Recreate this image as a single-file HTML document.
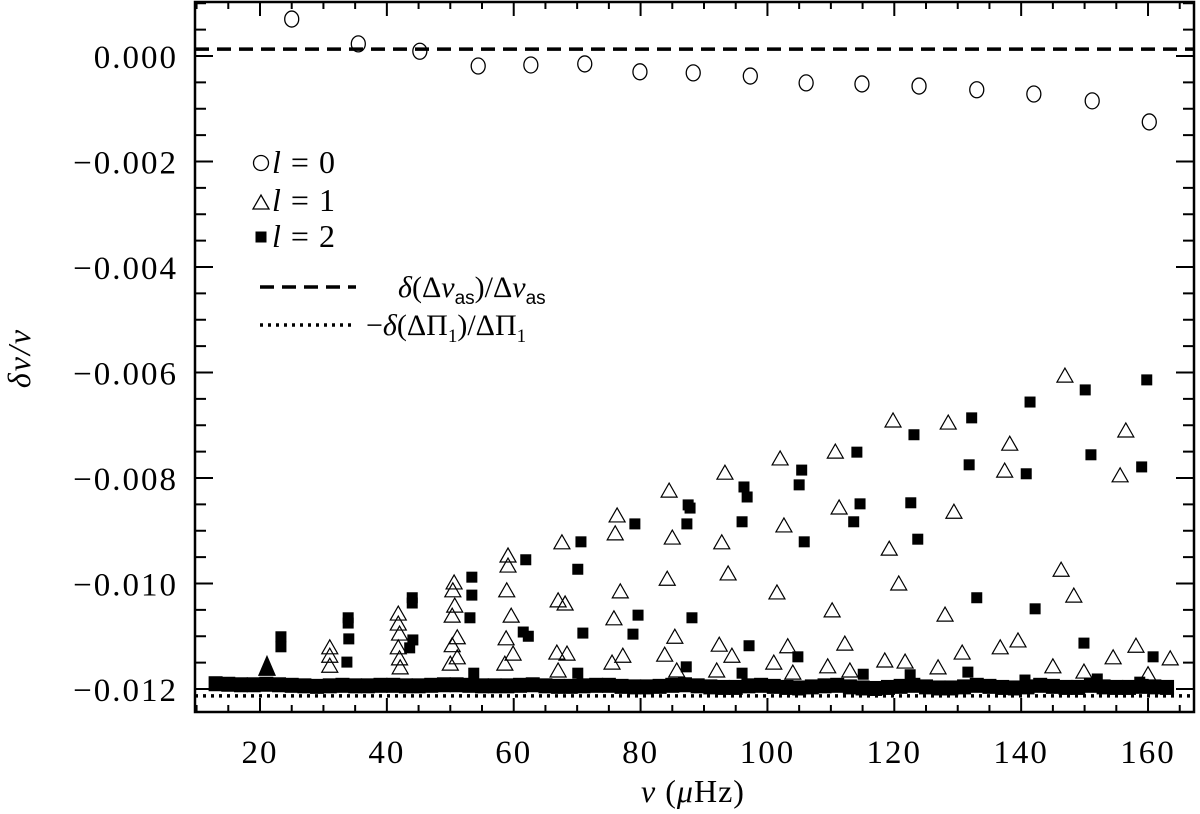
<!DOCTYPE html>
<html><head><meta charset="utf-8"><style>
html,body{margin:0;padding:0;background:#fff;}
svg{display:block;font-family:"Liberation Serif",serif;}
</style></head><body>
<svg id="chart" width="1200" height="814" viewBox="0 0 1200 814" xmlns="http://www.w3.org/2000/svg">
<g id="marks"></g>
<g id="axes"></g>
<g id="legend">
  <circle cx="261" cy="163" r="7.5" fill="none" stroke="#000" stroke-width="1.3"/>
  <text x="272" y="173" font-size="32" font-style="italic" letter-spacing="1">l<tspan font-style="normal">  =  0</tspan></text>
  <polygon points="253,209 269,209 261,195" fill="none" stroke="#000" stroke-width="1.3"/>
  <text x="272" y="211" font-size="32" font-style="italic" letter-spacing="1">l<tspan font-style="normal">  =  1</tspan></text>
  <rect x="255.5" y="231.5" width="11" height="11" fill="#000"/>
  <text x="272" y="247" font-size="32" font-style="italic" letter-spacing="1">l<tspan font-style="normal">  =  2</tspan></text>
  <line x1="260" y1="287" x2="356" y2="287" stroke="#000" stroke-width="3.5" stroke-dasharray="14,8"/>
  <text x="398" y="297" font-size="30"><tspan font-style="italic">δ</tspan>(Δ<tspan font-style="italic">ν</tspan><tspan font-family="Liberation Sans, sans-serif" font-size="19" dy="7">as</tspan><tspan dy="-7">)/Δ</tspan><tspan font-style="italic">ν</tspan><tspan font-family="Liberation Sans, sans-serif" font-size="19" dy="7">as</tspan></text>
  <line x1="260" y1="325" x2="356" y2="325" stroke="#000" stroke-width="3.5" stroke-dasharray="3,5"/>
  <text x="366" y="335" font-size="30">−<tspan font-style="italic">δ</tspan>(ΔΠ<tspan font-size="19" dy="7">1</tspan><tspan dy="-7">)/ΔΠ</tspan><tspan font-size="19" dy="7">1</tspan></text>
</g>
</svg>
<script>
// ---- data (delta values in units of 1e-3) ----
const l0Nu=[25.0,35.5,45.2,54.4,62.7,71.2,79.9,88.3,97.3,106.1,114.9,123.9,133.0,142.0,151.2,160.2];
const l0Val=[0.70,0.23,0.09,-0.19,-0.17,-0.15,-0.30,-0.32,-0.38,-0.51,-0.53,-0.57,-0.64,-0.72,-0.85,-1.25];
const l1Nu=[31.0,31.0,31.0,41.8,41.8,42.0,41.8,42.0,42.1,50.6,50.4,50.7,50.3,51.1,50.3,51.1,50.0,
59.1,59.1,58.9,59.6,58.8,59.9,58.6,67.6,67.0,68.1,66.8,68.4,67.0,76.3,76.0,76.8,75.8,77.2,75.5,
84.5,85.0,84.2,85.4,83.8,85.7,93.3,92.8,93.8,92.4,94.4,92.0,102.0,102.6,101.5,103.2,101.0,104.0,
110.7,111.3,110.2,112.2,109.5,113.0,119.8,119.2,120.7,118.5,121.7,128.5,129.4,128.0,130.7,126.9,
137.4,138.2,136.7,139.5,145.0,146.9,146.3,148.3,149.9,154.5,156.5,155.6,158.1,163.5,160.0];
const l1Val=[-11.20,-11.36,-11.55,-10.56,-10.75,-10.94,-11.20,-11.41,-11.58,-9.97,-10.12,-10.41,-10.60,-11.01,-11.16,-11.39,-11.51,
-9.46,-9.65,-10.12,-10.60,-11.03,-11.32,-11.51,-9.21,-10.31,-10.37,-11.30,-11.32,-11.64,-8.70,-9.04,-10.14,-10.65,-11.36,-11.49,
-8.23,-9.12,-9.90,-11.00,-11.34,-11.64,-7.89,-9.21,-9.80,-11.15,-11.36,-11.64,-7.62,-8.89,-10.16,-11.18,-11.49,-11.68,
-7.49,-8.55,-10.50,-11.13,-11.56,-11.64,-6.90,-9.33,-9.99,-11.45,-11.47,-6.94,-8.63,-10.58,-11.30,-11.58,
-7.85,-7.34,-11.20,-11.07,-11.56,-6.05,-9.73,-10.22,-11.66,-11.39,-7.09,-7.94,-11.17,-11.41,-11.71];
const l1FilledNu=[21.1];
const l1FilledVal=[-11.58];
const l2Nu=[23.3,23.3,33.9,33.9,34.0,33.7,44.0,44.0,44.1,43.6,53.4,53.4,53.1,53.7,
61.9,61.5,62.3,70.6,70.1,70.9,70.1,79.1,79.6,78.8,87.5,87.8,87.3,88.1,87.2,96.3,96.8,96.0,97.1,96.0,
105.4,105.0,105.8,104.8,114.1,114.6,113.6,115.1,123.1,122.6,123.7,122.5,132.2,131.8,133.0,131.6,
141.4,140.8,142.2,140.6,150.1,151.0,149.9,152.0,159.8,159.0,160.8,158.7];
const l2Val=[-11.01,-11.20,-10.65,-10.75,-11.05,-11.49,-10.27,-10.37,-11.07,-11.22,-9.88,-10.22,-10.65,-11.70,
-9.55,-10.92,-11.00,-9.21,-9.73,-10.94,-11.70,-8.87,-10.60,-10.96,-8.51,-8.57,-8.87,-10.65,-11.58,-8.17,-8.36,-8.83,-11.18,-11.70,
-7.85,-8.13,-9.21,-11.39,-7.51,-8.49,-8.83,-11.72,-7.18,-8.47,-9.16,-11.73,-6.86,-7.75,-10.27,-11.68,
-6.56,-7.92,-10.48,-11.83,-6.33,-7.56,-11.13,-11.81,-6.14,-7.79,-11.39,-11.87];
const bandNu=[13,15,17,19,21,23,25,27,29,31,33,35,37,39,41,43,45,47,49,51,53,55,57,59,61,63,65,67,69,71,73,75,77,79,81,83,85,87,89,91,93,95,97,99,101,103,105,107,109,111,113,115,117,119,121,123,125,127,129,131,133,135,137,139,141,143,145,147,149,151,153,155,157,159,161,163];
const bandVal=[-11.90,-11.91,-11.92,-11.92,-11.91,-11.92,-11.93,-11.94,-11.95,-11.94,-11.93,-11.94,-11.94,-11.93,-11.93,-11.94,-11.94,-11.93,-11.92,-11.92,-11.93,-11.94,-11.94,-11.94,-11.93,-11.92,-11.94,-11.95,-11.95,-11.94,-11.93,-11.93,-11.95,-11.96,-11.96,-11.95,-11.93,-11.92,-11.94,-11.96,-11.97,-11.97,-11.94,-11.93,-11.95,-11.97,-11.98,-11.96,-11.94,-11.93,-11.96,-11.98,-11.99,-11.97,-11.95,-11.93,-11.96,-11.98,-11.98,-11.96,-11.93,-11.95,-11.97,-11.98,-11.96,-11.93,-11.95,-11.97,-11.97,-11.93,-11.96,-11.97,-11.97,-11.95,-11.96,-11.97];
const dashedVal=0.13;
const dottedVal=-12.13;
const xTicks=[20,40,60,80,100,120,140,160];
const yTicks=[0,-2,-4,-6,-8,-10,-12];
const yTickLabels=["0.000","−0.002","−0.004","−0.006","−0.008","−0.010","−0.012"];

const L=195,R=1194,T=2,B=712;
function xs(nu){return 260+(nu-20)*6.343;}
function ys(v){return 56-v*52.75;}
const NS="http://www.w3.org/2000/svg";
function mk(tag,attrs,parent){const e=document.createElementNS(NS,tag);for(const k in attrs)e.setAttribute(k,attrs[k]);parent.appendChild(e);return e;}
const marks=document.getElementById('marks');
const axes=document.getElementById('axes');

let ln=mk('line',{x1:L,x2:R,y1:ys(dashedVal),y2:ys(dashedVal),stroke:'#000','stroke-width':3.5,'stroke-dasharray':'14,8'},marks);


ln=mk('line',{x1:L,x2:R,y1:ys(dottedVal),y2:ys(dottedVal),stroke:'#000','stroke-width':3.5,'stroke-dasharray':'3,5'},marks);



bandNu.forEach((n,i)=>{
  const x=xs(n),y=ys(bandVal[i]);
  const r=mk('rect',{x:x-7,y:y-7.5,width:14,height:15,fill:'#000'},marks);
  
  
});
function tri(x,y){return (x-8)+','+(y+7)+' '+(x+8)+','+(y+7)+' '+x+','+(y-7);}
l1Nu.forEach((n,i)=>{
  const p=mk('polygon',{points:tri(xs(n),ys(l1Val[i])),fill:'none',stroke:'#000','stroke-width':1.2},marks);
  
  
});
l1FilledNu.forEach((n,i)=>{
  const x=xs(n),y=ys(l1FilledVal[i]);
  const p=mk('polygon',{points:(x-9)+','+(y+9)+' '+(x+9)+','+(y+9)+' '+x+','+(y-12),fill:'#000'},marks);
  
  
});
l2Nu.forEach((n,i)=>{
  const r=mk('rect',{x:xs(n)-5.5,y:ys(l2Val[i])-5.5,width:11,height:11,fill:'#000'},marks);
  
  
});
l0Nu.forEach((n,i)=>{
  const c=mk('ellipse',{cx:xs(n),cy:ys(l0Val[i]),rx:7,ry:8,fill:'none',stroke:'#000','stroke-width':1.3},marks);
  
  
});

const fr=mk('rect',{x:L,y:T,width:R-L,height:B-T,fill:'none',stroke:'#000','stroke-width':2.5},axes);


for(let n=10;n<=165;n+=5){
  const x=xs(n); if(x<=L+1||x>=R-1) continue;
  const len=(n%20===0)?14:7;
  mk('line',{x1:x,x2:x,y1:B,y2:B-len,stroke:'#000','stroke-width':2},axes);
  mk('line',{x1:x,x2:x,y1:T,y2:T+len,stroke:'#000','stroke-width':2},axes);
}
xTicks.forEach(n=>{
  const t=mk('text',{x:xs(n),y:763,'font-size':33,'text-anchor':'middle','letter-spacing':2},axes);
  t.textContent=String(n);
  
  
});
for(let k=2;k>=-25;k--){
  const v=k*0.5, y=ys(v); if(y<=T+1||y>=B-1) continue;
  const len=(k%4===0)?18:11;
  mk('line',{x1:L,x2:L+len,y1:y,y2:y,stroke:'#000','stroke-width':2},axes);
  mk('line',{x1:R,x2:R-len,y1:y,y2:y,stroke:'#000','stroke-width':2},axes);
}
yTicks.forEach((v,i)=>{
  const t=mk('text',{x:178,y:ys(v)+12,'font-size':33,'text-anchor':'end','letter-spacing':2},axes);
  t.textContent=yTickLabels[i];
  
  
});
let xt=mk('text',{x:693,y:802,'font-size':32,'text-anchor':'middle','letter-spacing':1},axes);
xt.innerHTML='<tspan font-style="italic">ν</tspan>  (<tspan font-style="italic">μ</tspan>Hz)';


let yt=mk('text',{x:0,y:0,'font-size':32,'text-anchor':'middle','font-style':'italic','letter-spacing':2,transform:'translate(30,358) rotate(-90)'},axes);
yt.textContent='δν/ν';


</script>
</body></html>
